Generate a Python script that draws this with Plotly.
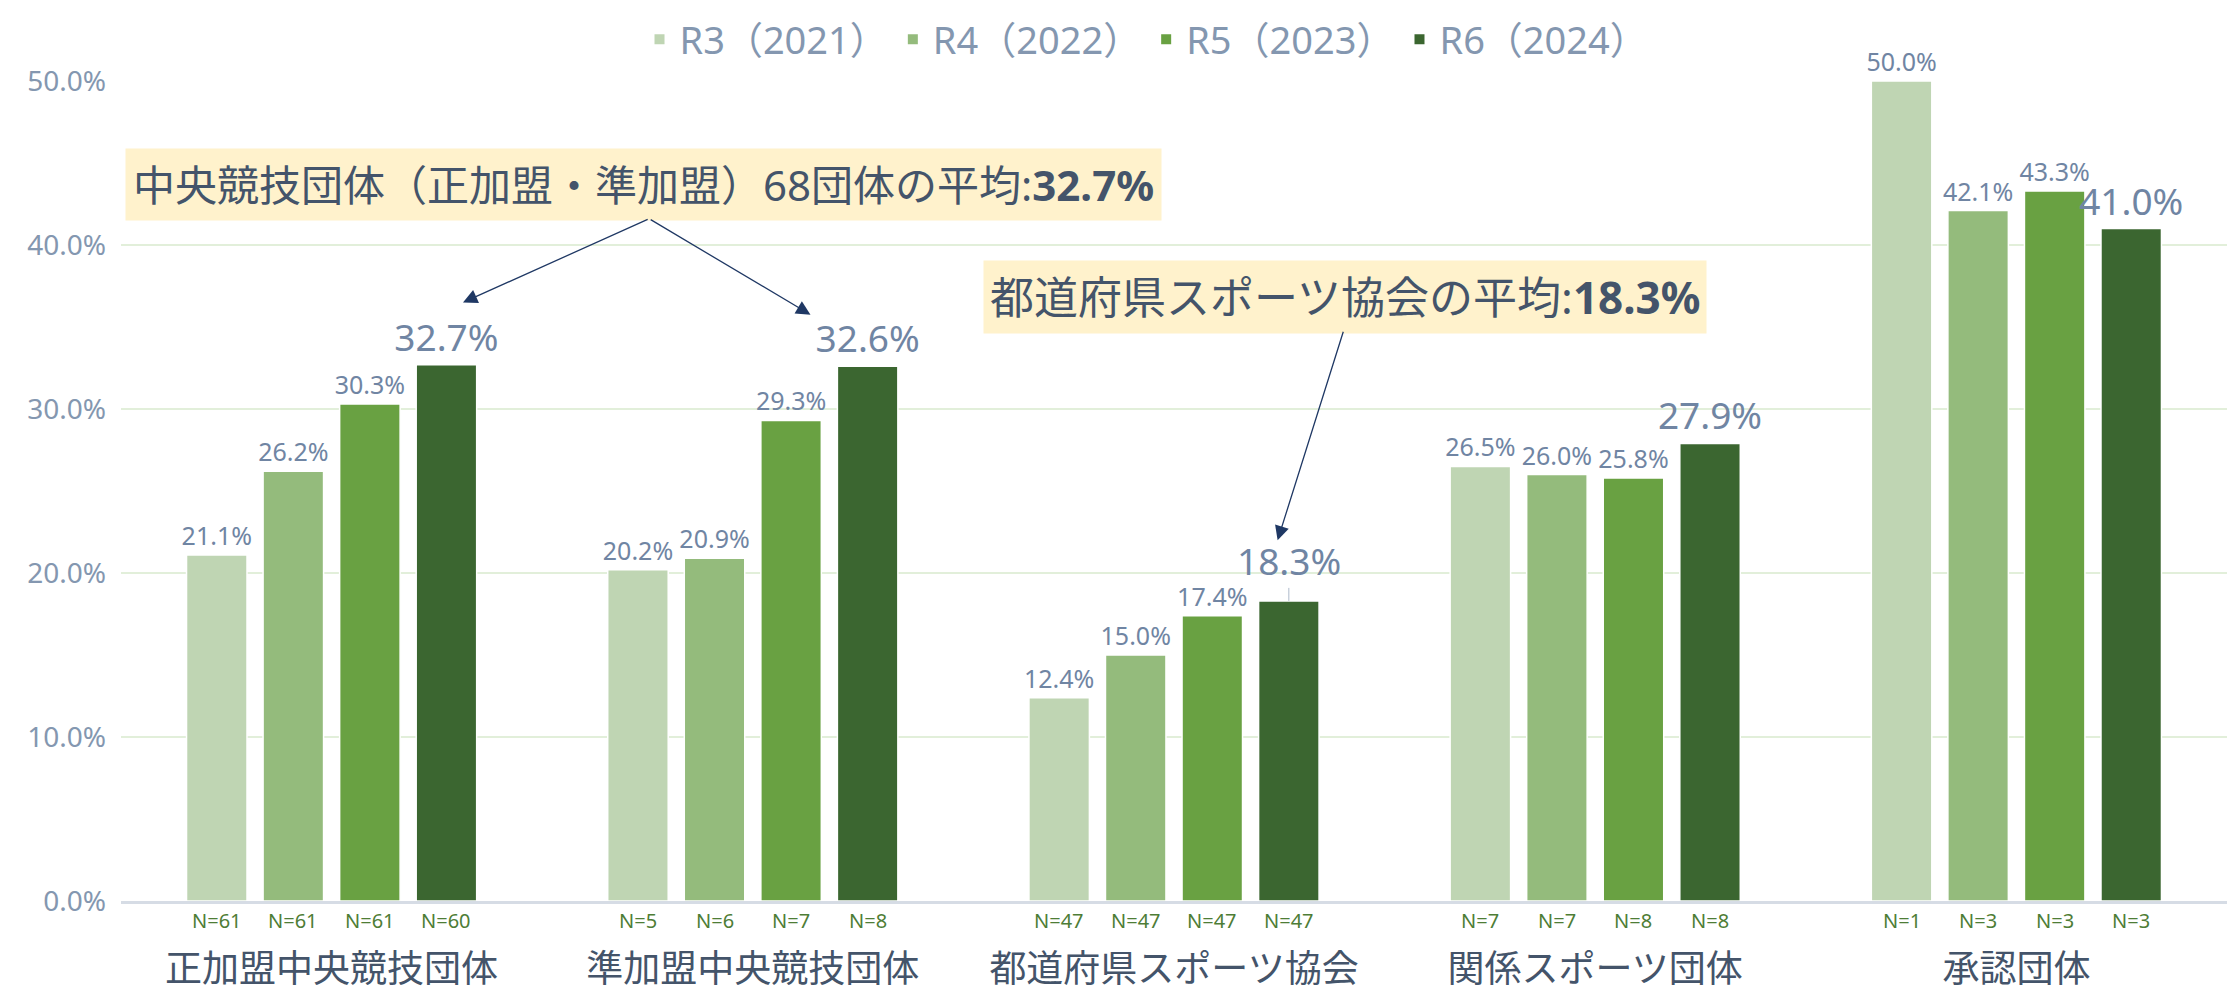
import plotly.graph_objects as go

categories = ["正加盟中央競技団体", "準加盟中央競技団体", "都道府県スポーツ協会", "関係スポーツ団体", "承認団体"]
series_names = ["R3（2021）", "R4（2022）", "R5（2023）", "R6（2024）"]
r3 = [21.1, 20.2, 12.4, 26.5, 50.0]
r4 = [26.2, 20.9, 15.0, 26.0, 42.1]
r5 = [30.3, 29.3, 17.4, 25.8, 43.3]
r6 = [32.7, 32.6, 18.3, 27.9, 41.0]
n3 = [61, 5, 47, 7, 1]
n4 = [61, 6, 47, 7, 3]
n5 = [61, 7, 47, 8, 3]
n6 = [60, 8, 47, 8, 3]
y_ticks = [0, 10, 20, 30, 40, 50]
note1 = "中央競技団体（正加盟・準加盟）68団体の平均:<b>32.7%</b>"
note2 = "都道府県スポーツ協会の平均:<b>18.3%</b>"

colors = ["#BFD5B3", "#94BB7C", "#69A142", "#3B6630"]
label_color = "#7085A3"
tick_color = "#8497B0"
dark_text = "#44546A"
navy = "#1F3864"
JP = "Noto Sans, Noto Sans CJK JP, sans-serif"

BARGAP = 0.273
BARGROUPGAP = 0.21
series_vals = [r3, r4, r5, r6]
series_n = [n3, n4, n5, n6]
slot = (1 - BARGAP) / 4


def offset(i):
    return (i - 1.5) * slot


fig = go.Figure()
for i, (name, vals) in enumerate(zip(series_names, series_vals)):
    big = i == 3
    texts = []
    for j, v in enumerate(vals):
        if big and j == 2:
            texts.append("")
        else:
            texts.append(f"{v:.1f}%")
    fig.add_trace(go.Bar(
        name=name, x=categories, y=vals,
        marker=dict(color=colors[i], line=dict(color="white", width=1.5)),
        text=texts, textposition="outside", cliponaxis=False,
        constraintext="none",
        textfont=dict(family=JP, size=37 if big else 25, color=label_color),
        hoverinfo="skip",
    ))

annotations = []
# N labels under each bar
for i, ns in enumerate(series_n):
    for j, n in enumerate(ns):
        annotations.append(dict(
            x=j + offset(i), y=0, xref="x", yref="paper", yanchor="middle",
            yshift=-19, text=f"N={n}", showarrow=False,
            font=dict(family=JP, size=20, color="#4E7D36"),
        ))

# 18.3% label with leader line
annotations.append(dict(
    x=2 + offset(3), y=r6[2], xref="x", yref="y", text=f"{r6[2]:.1f}%",
    showarrow=True, arrowhead=0, arrowwidth=1, arrowcolor="#ADB9CA",
    ax=0, ay=-40, font=dict(family=JP, size=37, color=label_color),
))

# Callout boxes
annotations.append(dict(
    x=0.74, y=43.67, xref="x", yref="y", text=note1, showarrow=False,
    font=dict(family=JP, size=42, color=dark_text),
    bgcolor="#FFF2CC", borderpad=7,
))
annotations.append(dict(
    x=2.405, y=36.85, xref="x", yref="y", text=note2, showarrow=False,
    font=dict(family=JP, size=44, color=dark_text),
    bgcolor="#FFF2CC", borderpad=6,
))
# Arrows
arrows = [
    ((0.754, 41.6), (0.312, 36.5)),
    ((0.754, 41.6), (1.137, 35.75)),
    ((2.403, 34.8), (2.246, 22.0)),
]
for (tx, ty), (hx, hy) in arrows:
    annotations.append(dict(
        x=hx, y=hy, ax=tx, ay=ty, xref="x", yref="y", axref="x", ayref="y",
        text="", showarrow=True, arrowhead=2, arrowsize=2.2, arrowwidth=1.3,
        arrowcolor=navy, standoff=0,
    ))

# the page body adds an 8px offset, so the figure is 8px smaller than the window
fig.update_layout(
    width=2228, height=986,
    margin=dict(l=113, r=9, t=73, b=93, autoexpand=False),
    barmode="group", bargap=BARGAP, bargroupgap=BARGROUPGAP,
    plot_bgcolor="white", paper_bgcolor="white",
    font=dict(family=JP, color=tick_color),
    legend=dict(
        orientation="h", x=0.511, xanchor="center", xref="container",
        y=1.0, yanchor="top", yref="container",
        font=dict(family=JP, size=38, color=tick_color),
        itemsizing="constant",
    ),
    annotations=annotations,
    showlegend=True,
)
fig.update_yaxes(
    range=[0, 50], tickvals=y_ticks, ticktext=[f"{t:.1f}%" for t in y_ticks],
    showgrid=True, gridcolor="#E2EFDA", gridwidth=1.5, zeroline=False,
    tickfont=dict(family=JP, size=28, color=tick_color),
    ticklabelstandoff=14, automargin=False,
)
fig.update_xaxes(
    showline=True, linecolor="#D6DCE5", linewidth=3,
    tickfont=dict(family=JP, size=37, color=dark_text),
    ticklabelstandoff=34, automargin=False,
)

fig.write_html("out.html")
